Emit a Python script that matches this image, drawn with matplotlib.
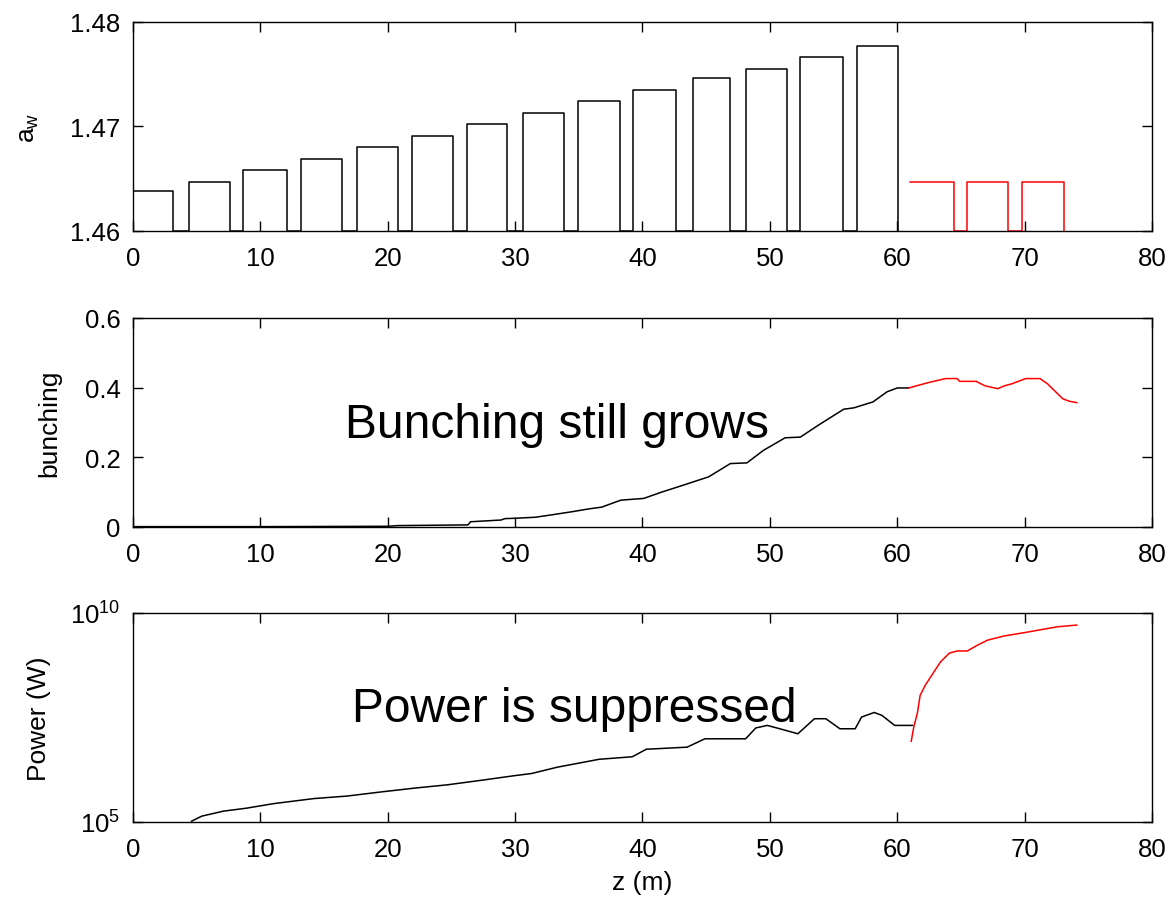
import numpy as np
import matplotlib
matplotlib.use("Agg")
from matplotlib import pyplot as plt
from matplotlib.ticker import NullLocator

# undulator strength a_w per segment (tapered part, black)
SEG_START = [0.0, 4.39, 8.63, 13.16, 17.58, 21.9, 26.2, 30.6, 34.9, 39.26, 43.95, 48.15, 52.39, 56.82]
SEG_END = [3.16, 7.63, 12.1, 16.37, 20.8, 25.1, 29.4, 33.8, 38.2, 42.63, 46.87, 51.33, 55.74, 60.03]
SEG_AW = [1.4638, 1.4647, 1.4658, 1.4669, 1.4680, 1.4691, 1.4702, 1.4713, 1.4724,
          1.4735, 1.4746, 1.4755, 1.4766, 1.4777]
# after-burner segments (red)
RED_START = [61.0, 65.49, 69.77]
RED_END = [64.43, 68.69, 73.11]
RED_AW = [1.4647, 1.4647, 1.4647]

# bunching factor
BUN_Z = [0.0, 10.0, 20.0, 20.8, 26.3, 26.5, 28.9, 29.2, 30.0, 31.6, 32.9, 34.5, 35.8, 36.8,
         38.3, 40.1, 41.5, 43.2, 45.2, 46.9, 48.2, 49.5, 51.2, 52.4, 53.8, 55.8, 56.6,
         58.1, 59.2, 60.0, 60.9]
BUN = [0.001, 0.001, 0.002, 0.004, 0.006, 0.015, 0.02, 0.024, 0.025, 0.028, 0.035, 0.044,
       0.052, 0.057, 0.077, 0.082, 0.100, 0.120, 0.144, 0.182, 0.184, 0.220, 0.256, 0.258,
       0.292, 0.338, 0.342, 0.359, 0.388, 0.399, 0.399]
BUN_RED_Z = [60.9, 62.4, 63.8, 64.7, 64.9, 66.2, 66.9, 67.9, 68.4, 69.0, 70.1, 71.2, 71.8,
             73.0, 73.5, 74.1]
BUN_RED = [0.399, 0.414, 0.426, 0.426, 0.418, 0.418, 0.405, 0.397, 0.405, 0.411, 0.426,
           0.426, 0.411, 0.368, 0.361, 0.357]

# power, log10(W)
POW_Z = [4.6, 5.4, 7.1, 8.9, 11.05, 14.2, 16.8, 19.5, 22.1, 24.7, 27.4, 30.0, 31.3, 33.3,
         36.6, 39.2, 40.3, 43.5, 44.9, 48.1, 48.9, 49.8, 50.9, 52.2, 53.5, 54.4, 55.5,
         56.7, 57.2, 58.2, 58.8, 59.8, 61.2]
POW_LOG = [5.02, 5.14, 5.26, 5.33, 5.44, 5.56, 5.62, 5.72, 5.81, 5.89, 6.00, 6.11, 6.16,
           6.31, 6.50, 6.56, 6.74, 6.79, 6.99, 6.99, 7.25, 7.31, 7.22, 7.11, 7.47, 7.47,
           7.23, 7.23, 7.51, 7.62, 7.55, 7.31, 7.31]
POW_RED_Z = [61.1, 61.3, 61.6, 61.8, 62.2, 62.8, 63.4, 64.1, 64.7, 65.5, 66.3, 67.1, 68.4,
             70.0, 71.1, 72.6, 74.1]
POW_RED_LOG = [6.93, 7.27, 7.63, 8.03, 8.27, 8.55, 8.83, 9.04, 9.09, 9.09, 9.23, 9.35,
               9.45, 9.53, 9.59, 9.67, 9.71]

XTICKS = [0, 10, 20, 30, 40, 50, 60, 70, 80]

plt.rcParams['font.family'] = ['Liberation Sans', 'DejaVu Sans']
plt.rcParams['mathtext.fontset'] = 'custom'
plt.rcParams['mathtext.rm'] = 'Liberation Sans'
plt.rcParams['mathtext.it'] = 'Liberation Sans'
plt.rcParams['axes.linewidth'] = 1.0

TICK_FS = 18.5
LABEL_FS = 19


def steps(starts, ends, levels, base, skip_first=False):
    xs, ys = [], []
    for s, e, h in zip(starts, ends, levels):
        xs += [s, s, e, e]
        ys += [base, h, h, base]
    if skip_first:
        xs, ys = xs[1:], ys[1:]
    return xs, ys


def style(ax):
    ax.set_xlim(0, 80)
    ax.set_xticks(XTICKS)
    ax.set_xticklabels([str(t) for t in XTICKS])
    ax.tick_params(direction='in', top=True, right=True, length=7.5, width=1,
                   labelsize=TICK_FS, pad=9, colors='black')
    ax.tick_params(axis='x', pad=11)


fig = plt.figure(figsize=(11.69, 9.03), dpi=100)
L, W, H = 0.1138, 0.8716, 0.2315

# top: a_w
ax1 = fig.add_axes([L, 0.7431, W, H])
bx, by = steps(SEG_START, SEG_END, SEG_AW, 1.46)
ax1.plot(bx, by, color='black', lw=1.1)
rx, ry = steps(RED_START, RED_END, RED_AW, 1.46, skip_first=True)
ax1.plot(rx, ry, color='red', lw=1.1)
ax1.set_ylim(1.46, 1.48)
ax1.set_yticks([1.46, 1.47, 1.48])
ax1.set_yticklabels(['1.46', '1.47', '1.48'])
style(ax1)
ax1.set_ylabel(r'$\mathregular{a_w}$', fontsize=LABEL_FS)
ax1.yaxis.set_label_coords(-0.090, 0.5)

# middle: bunching
ax2 = fig.add_axes([L, 0.4153, W, H])
ax2.plot(BUN_Z, BUN, color='black', lw=1.1)
ax2.plot(BUN_RED_Z, BUN_RED, color='red', lw=1.1)
ax2.set_ylim(0, 0.6)
ax2.set_yticks([0, 0.2, 0.4, 0.6])
ax2.set_yticklabels(['0', '0.2', '0.4', '0.6'])
style(ax2)
ax2.set_ylabel('bunching', fontsize=LABEL_FS)
ax2.yaxis.set_label_coords(-0.070, 0.5)
ax2.text(0.208, 0.431, 'Bunching still grows', transform=ax2.transAxes,
         fontsize=34.5, va='baseline', ha='left')

# bottom: power
ax3 = fig.add_axes([L, 0.0886, W, H])
ax3.plot(POW_Z, 10 ** np.array(POW_LOG), color='black', lw=1.1)
ax3.plot(POW_RED_Z, 10 ** np.array(POW_RED_LOG), color='red', lw=1.1)
ax3.set_yscale('log')
ax3.set_ylim(1e5, 1e10)
ax3.set_yticks([1e5, 1e10])
ax3.set_yticklabels([r'$\mathregular{10^{5}}$', r'$\mathregular{10^{10}}$'])
ax3.yaxis.set_minor_locator(NullLocator())
style(ax3)
ax3.set_ylabel('Power (W)', fontsize=LABEL_FS)
ax3.yaxis.set_label_coords(-0.081, 0.5)
ax3.set_xlabel('z (m)', fontsize=LABEL_FS, labelpad=6)
ax3.text(0.215, 0.483, 'Power is suppressed', transform=ax3.transAxes,
         fontsize=34.5, va='baseline', ha='left')

fig.savefig('out.png', dpi=100)
